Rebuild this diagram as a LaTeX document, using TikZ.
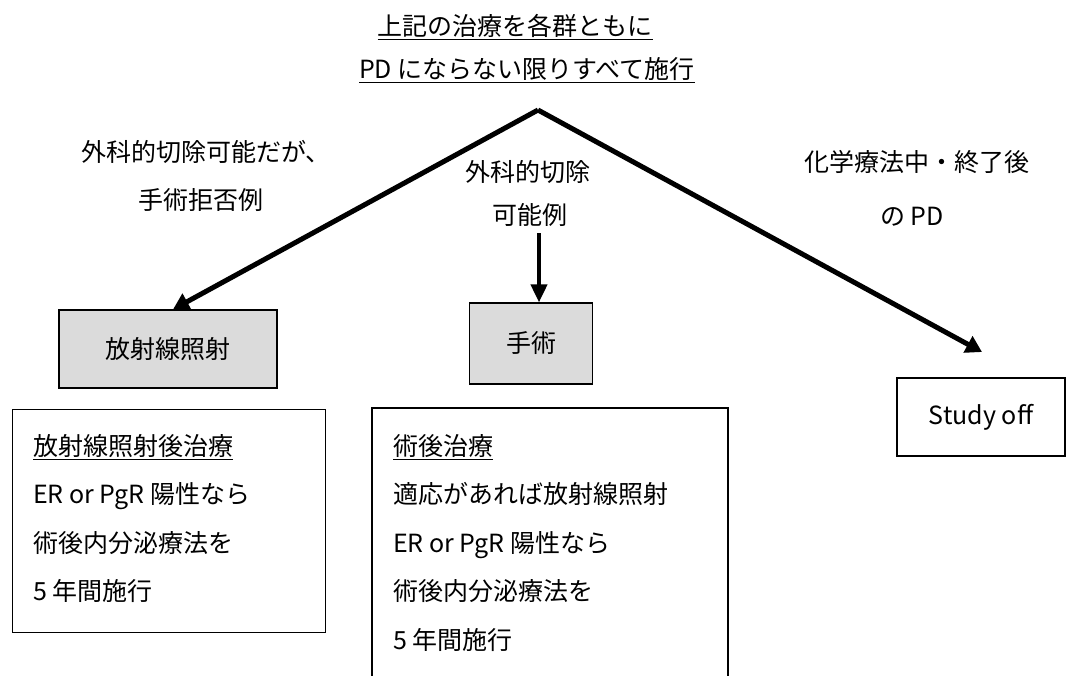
\documentclass[tikz,border=0pt]{standalone}
\usepackage{fontspec}
\setmainfont{Noto Sans CJK JP}
\usetikzlibrary{arrows.meta}
\tikzset{
  txt/.style={font=\fontsize{25}{30}\selectfont, inner sep=0pt},
  body/.style={font=\fontsize{25}{48.5}\selectfont, inner sep=0pt, align=left, anchor=north west},
  graybox/.style={draw, line width=1.2pt, fill=gray!28, font=\fontsize{25}{30}\selectfont},
  plainbox/.style={draw, line width=1.2pt},
  bigline/.style={line width=5pt, -{Triangle[length=16pt,width=18pt]}},
  midline/.style={line width=4pt, -{Triangle[length=18pt,width=16pt]}},
}
\begin{document}
\begin{tikzpicture}[x=1pt,y=-1pt]
\useasboundingbox (0,0) rectangle (1067,675);
% title
\node[txt] (t1) at (515,27) {\underline{上記の治療を各群ともに}};
\node[txt] (t2) at (527,70) {\underline{PD にならない限りすべて施行}};
% branch labels
\node[txt] (l1) at (206,152) {外科的切除可能だが、};
\node[txt] (l2) at (201,200) {手術拒否例};
\node[txt] (m1) at (528,172) {外科的切除};
\node[txt] (m2) at (530,215) {可能例};
\node[txt] (r1) at (917,162) {化学療法中・終了後};
\node[txt] (r2) at (912,217) {の PD};
% gray boxes
\node[graybox, minimum width=218pt, minimum height=78pt] (g1) at (168,349) {放射線照射};
\node[graybox, minimum width=123pt, minimum height=81pt] (g2) at (531,343.5) {手術};
\node[plainbox, minimum width=168pt, minimum height=78pt, font=\fontsize{25}{30}\selectfont] (so) at (981,417) {Study off};
% connectors
\coordinate (apex) at (538,110);
\coordinate (mtop) at (539,233);
\coordinate (rend) at (982,352);
\draw[bigline] (apex) -- ([xshift=5pt]g1.north);
\draw[bigline] (apex) -- (rend);
\draw[midline] (mtop) -- ([xshift=8pt]g2.north);
% left lower box
\node[plainbox, minimum width=313pt, minimum height=223pt, anchor=north west] (lb) at (12,409) {};
\node[body] (lbt) at (33,434) {\underline{放射線照射後治療}\\ER or PgR 陽性なら\\術後内分泌療法を\\5 年間施行};
% middle lower box (open at the bottom)
\coordinate (mb1) at (372,680);
\coordinate (mb2) at (728,680);
\draw[line width=1.2pt] (mb1) |- (728,408) coordinate (mbtr) -- (mb2);
\node[body] (mbt) at (393,434) {\underline{術後治療}\\適応があれば放射線照射\\ER or PgR 陽性なら\\術後内分泌療法を\\5 年間施行};
\end{tikzpicture}
\end{document}
